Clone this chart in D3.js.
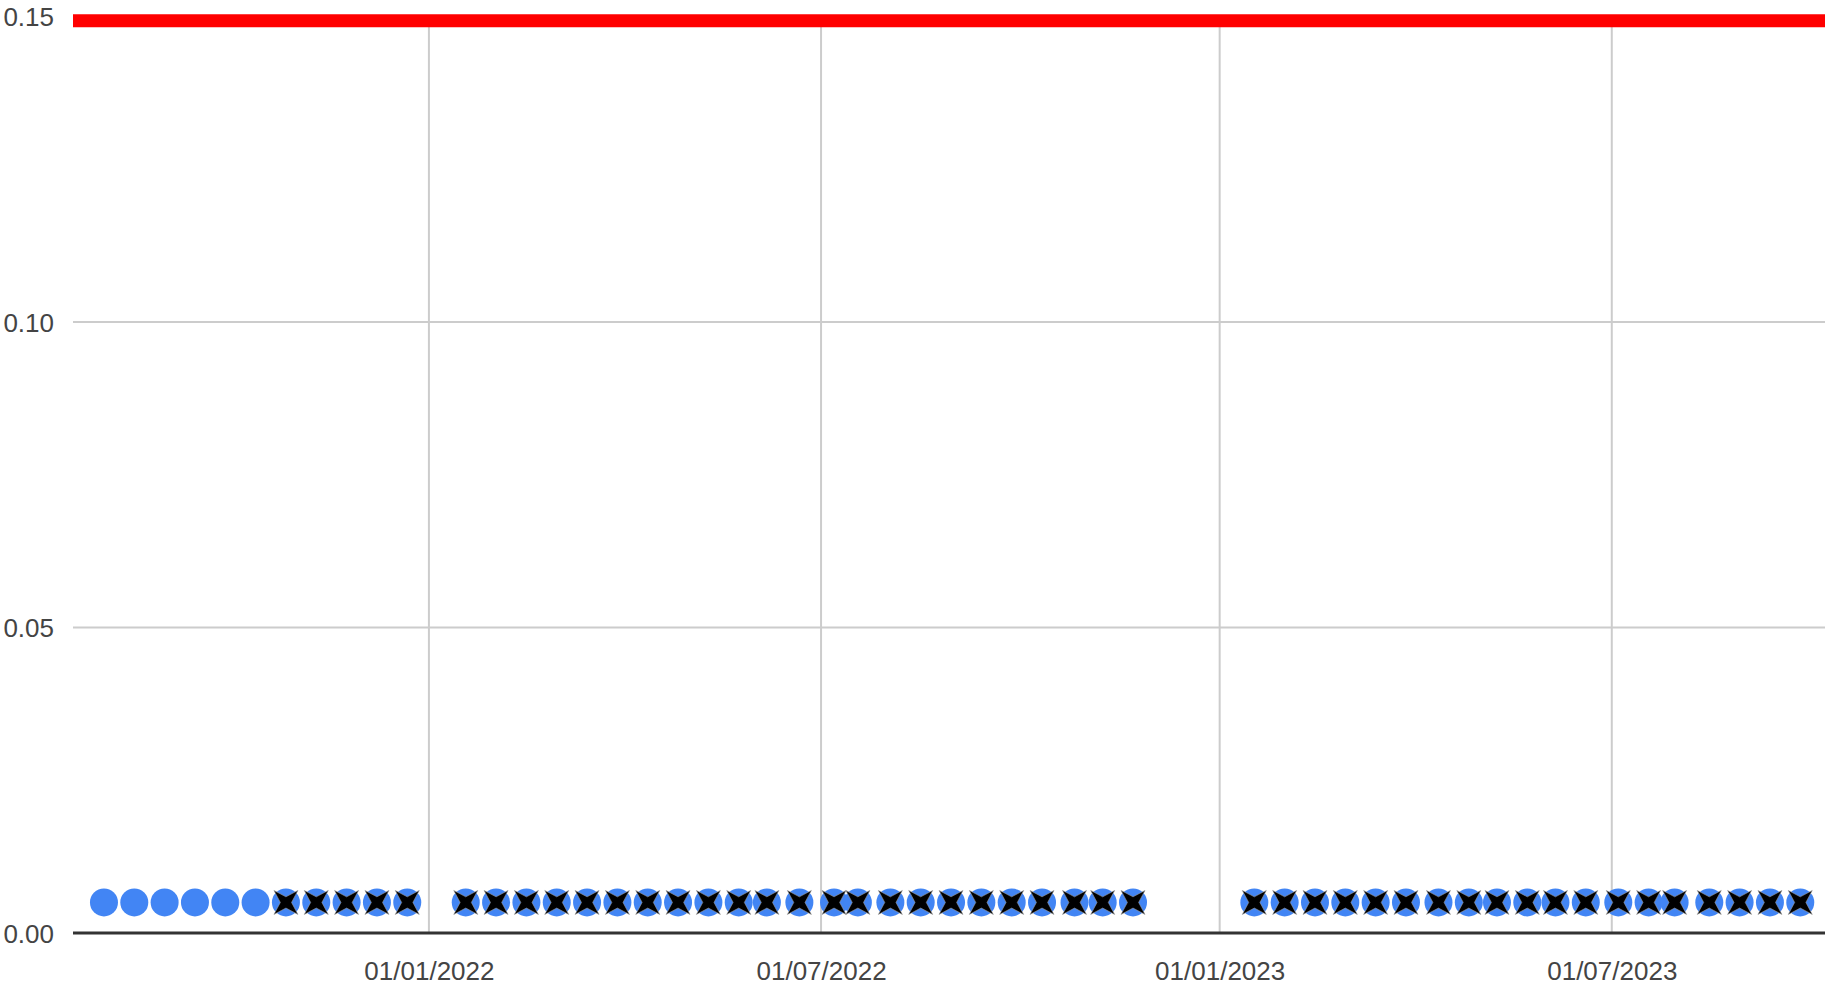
<!DOCTYPE html>
<html>
<head>
<meta charset="utf-8">
<script src="https://cdn.jsdelivr.net/npm/d3@7"></script>
<style>
body { margin: 0; background: #fff; }
text { font-family: "Liberation Sans", Arial, sans-serif; }
</style>
</head>
<body>
<div id="chart"></div>
<script>

// sample dates (dd/mm/yyyy on the axis)
const dates = [
"2021-08-04","2021-08-18","2021-09-01","2021-09-15","2021-09-29","2021-10-13",
"2021-10-27","2021-11-10","2021-11-24","2021-12-08","2021-12-22",
"2022-01-18","2022-02-01","2022-02-15","2022-03-01","2022-03-15","2022-03-29",
"2022-04-12","2022-04-26","2022-05-10","2022-05-24","2022-06-06","2022-06-21",
"2022-07-07","2022-07-18","2022-08-02","2022-08-16","2022-08-30","2022-09-13",
"2022-09-27","2022-10-11","2022-10-26","2022-11-08","2022-11-22",
"2023-01-17","2023-01-31","2023-02-14","2023-02-28","2023-03-14","2023-03-28",
"2023-04-12","2023-04-26","2023-05-09","2023-05-23","2023-06-05","2023-06-19",
"2023-07-04","2023-07-18","2023-07-30","2023-08-15","2023-08-29","2023-09-12",
"2023-09-26"
];

// measured value (blue dots)
const values = [
0.005,0.005,0.005,0.005,0.005,0.005,
0.005,0.005,0.005,0.005,0.005,
0.005,0.005,0.005,0.005,0.005,0.005,
0.005,0.005,0.005,0.005,0.005,0.005,
0.005,0.005,0.005,0.005,0.005,0.005,
0.005,0.005,0.005,0.005,0.005,
0.005,0.005,0.005,0.005,0.005,0.005,
0.005,0.005,0.005,0.005,0.005,0.005,
0.005,0.005,0.005,0.005,0.005,0.005,
0.005
];

// flagged results (black crosses), null = no flag
const flagged = [
null,null,null,null,null,null,
0.005,0.005,0.005,0.005,0.005,
0.005,0.005,0.005,0.005,0.005,0.005,
0.005,0.005,0.005,0.005,0.005,0.005,
0.005,0.005,0.005,0.005,0.005,0.005,
0.005,0.005,0.005,0.005,0.005,
0.005,0.005,0.005,0.005,0.005,0.005,
0.005,0.005,0.005,0.005,0.005,0.005,
0.005,0.005,0.005,0.005,0.005,0.005,
0.005
];

// limit line
const limitDates = ["2021-07-20T17:00","2023-10-07T10:00"];
const limitValues = [0.1493, 0.1493];

const xTicks = ["2022-01-01","2022-07-01","2023-01-01","2023-07-01"];
const yTicks = [0, 0.05, 0.10, 0.15];

//////////////////////////////////////////////////////////////////////////////

const svgWidth = 1825,
svgHeight = 990;

const margin = { top: 16.5, right: 0, bottom: 57, left: 73 };
const width = svgWidth - margin.left - margin.right;
const height = svgHeight - margin.top - margin.bottom;

const parseDay = d3.utcParse("%Y-%m-%d");
const parseTime = d3.utcParse("%Y-%m-%dT%H:%M");

const svg = d3.select("#chart")
.append("svg")
.attr("width", svgWidth)
.attr("height", svgHeight);

const chartGroup = svg.append("g")
.attr("transform", `translate(${margin.left}, ${margin.top})`);

const xScale = d3.scaleUtc()
.domain(limitDates.map(parseTime))
.range([0, width]);

const yScale = d3.scaleLinear()
.domain([0, 0.15])
.range([height, 0]);

//////////////////////////////////////////////////////////////////////////////
// grid

chartGroup.append("g")
.selectAll("line")
.data(yTicks.filter(d => d > 0))
.enter()
.append("line")
.attr("x1", 0)
.attr("x2", width)
.attr("y1", d => yScale(d))
.attr("y2", d => yScale(d))
.attr("stroke", "#cccccc")
.attr("stroke-width", 2);

chartGroup.append("g")
.selectAll("line")
.data(xTicks.map(parseDay))
.enter()
.append("line")
.attr("x1", d => xScale(d))
.attr("x2", d => xScale(d))
.attr("y1", 0)
.attr("y2", height)
.attr("stroke", "#cccccc")
.attr("stroke-width", 2);

// axes (labels only, google style)
const xAxis = chartGroup.append("g")
.attr("transform", `translate(0, ${height})`)
.call(d3.axisBottom(xScale)
    .tickValues(xTicks.map(parseDay))
    .tickFormat(d3.utcFormat("%d/%m/%Y"))
    .tickSize(0)
    .tickPadding(29));
xAxis.select(".domain").remove();

const yAxis = chartGroup.append("g")
.call(d3.axisLeft(yScale)
    .tickValues(yTicks)
    .tickFormat(d3.format(".2f"))
    .tickSize(0)
    .tickPadding(19));
yAxis.select(".domain").remove();

svg.selectAll(".tick text")
.attr("font-family", "'Liberation Sans', Arial, sans-serif")
.attr("font-size", 26)
.attr("fill", "#444444");

yAxis.selectAll(".tick text").attr("dy", "0.36em");

// baseline
chartGroup.append("line")
.attr("x1", 0)
.attr("x2", width)
.attr("y1", yScale(0))
.attr("y2", yScale(0))
.attr("stroke", "#333333")
.attr("stroke-width", 3);

//////////////////////////////////////////////////////////////////////////////
// limit line

const limitLine = d3.line()
.x(d => xScale(d.date))
.y(d => yScale(d.value));

chartGroup.append("path")
.datum(limitDates.map((d, i) => ({ date: parseTime(d), value: limitValues[i] })))
.attr("d", limitLine)
.attr("fill", "none")
.attr("stroke", "#ff0000")
.attr("stroke-width", 13);

//////////////////////////////////////////////////////////////////////////////
// points

const points = dates.map((d, i) => ({ date: parseDay(d), value: values[i], flag: flagged[i] }));

chartGroup.append("g")
.selectAll("circle")
.data(points)
.enter()
.append("circle")
.attr("cx", d => xScale(d.date))
.attr("cy", d => yScale(d.value))
.attr("r", 14)
.attr("fill", "#4285f4");

// four pointed cross (x shape)
const a = 12, r = 5.6;
const crossPath = `M${a},${a} L0,${r} L${-a},${a} L${-r},0 L${-a},${-a} L0,${-r} L${a},${-a} L${r},0 Z`;

chartGroup.append("g")
.selectAll("path")
.data(points.filter(d => d.flag !== null))
.enter()
.append("path")
.attr("transform", d => `translate(${xScale(d.date)}, ${yScale(d.flag)})`)
.attr("d", crossPath)
.attr("fill", "#000000")
.attr("stroke", "#9a9a9a")
.attr("stroke-width", 0.6);

</script>
</body>
</html>
